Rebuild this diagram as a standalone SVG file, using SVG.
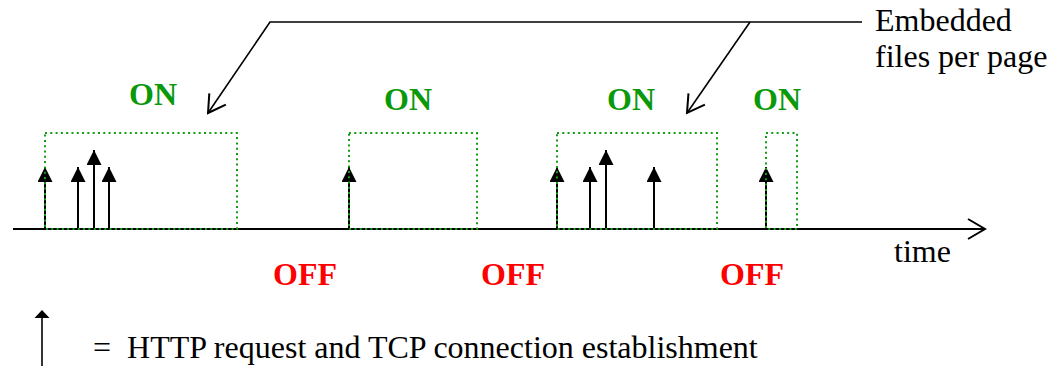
<svg xmlns="http://www.w3.org/2000/svg" width="1060" height="366" viewBox="0 0 1060 366">
<style>
.txt{font-family:"Liberation Serif","Times New Roman",serif;font-size:32px;fill:#000}
.on{font-family:"Liberation Serif","Times New Roman",serif;font-size:32px;font-weight:bold;fill:#0a990a;text-anchor:middle}
.off{font-family:"Liberation Serif","Times New Roman",serif;font-size:32px;font-weight:bold;fill:#ff0000;text-anchor:middle}
.req{stroke:#000;stroke-width:2;fill:none;marker-end:url(#fill)}
.win{fill:none;stroke:#119e11;stroke-width:2;stroke-dasharray:2 3.3}
.lead{stroke:#000;stroke-width:1.6;fill:none}
</style>
<defs>
<marker id="fill" markerUnits="userSpaceOnUse" viewBox="0 0 15 15" markerWidth="15" markerHeight="15" refX="15" refY="7.5" orient="auto">
<path d="M0,0 L15,7.5 L0,15 z" fill="#000"/>
</marker>
<marker id="open" markerUnits="userSpaceOnUse" viewBox="-20 -12 22 24" markerWidth="22" markerHeight="24" refX="0" refY="0" orient="auto">
<path d="M-17,-10 L0,0 L-17,10" fill="none" stroke="#000" stroke-width="2"/>
</marker>
</defs>
<g id="connectors">
<line x1="13" y1="229" x2="985" y2="229" stroke="#000" stroke-width="2" marker-end="url(#open)"/>
<polyline class="lead" points="862,22 270,22 208,113" marker-end="url(#open)"/>
<line class="lead" x1="750" y1="22" x2="687" y2="113" marker-end="url(#open)"/>
</g>
<g id="requests">
<line class="req" x1="45" y1="229" x2="45" y2="167"/>
<line class="req" x1="78" y1="229" x2="78" y2="167"/>
<line class="req" x1="94" y1="229" x2="94" y2="150"/>
<line class="req" x1="109" y1="229" x2="109" y2="167"/>
<line class="req" x1="349" y1="229" x2="349" y2="167"/>
<line class="req" x1="557" y1="229" x2="557" y2="167"/>
<line class="req" x1="590" y1="229" x2="590" y2="167"/>
<line class="req" x1="606" y1="229" x2="606" y2="150"/>
<line class="req" x1="654" y1="229" x2="654" y2="167"/>
<line class="req" x1="766" y1="229" x2="766" y2="167"/>
</g>
<g id="on1"><rect class="win" x="45" y="133" width="192" height="96"/><text class="on" x="153" y="105">ON</text></g>
<g id="on2"><rect class="win" x="349" y="133" width="128" height="96"/><text class="on" x="408" y="110">ON</text></g>
<g id="on3"><rect class="win" x="557" y="133" width="160" height="96"/><text class="on" x="631" y="110">ON</text></g>
<g id="on4"><rect class="win" x="766" y="133" width="31" height="96"/><text class="on" x="777" y="110">ON</text></g>
<g id="off-labels">
<text class="off" x="305" y="285">OFF</text>
<text class="off" x="513" y="285">OFF</text>
<text class="off" x="752" y="285">OFF</text>
</g>
<g id="label-embedded">
<text class="txt" x="875" y="31">Embedded</text>
<text class="txt" x="875" y="67">files per page</text>
</g>
<g id="label-time"><text class="txt" x="894" y="262">time</text></g>
<g id="legend">
<line x1="42" y1="366" x2="42" y2="318" stroke="#000" stroke-width="1.6"/>
<path d="M34.5,318 L42,310 L49.5,318 z" fill="#000"/>
<text class="txt" x="93" y="358" xml:space="preserve">=  HTTP request and TCP connection establishment</text>
</g>
</svg>
